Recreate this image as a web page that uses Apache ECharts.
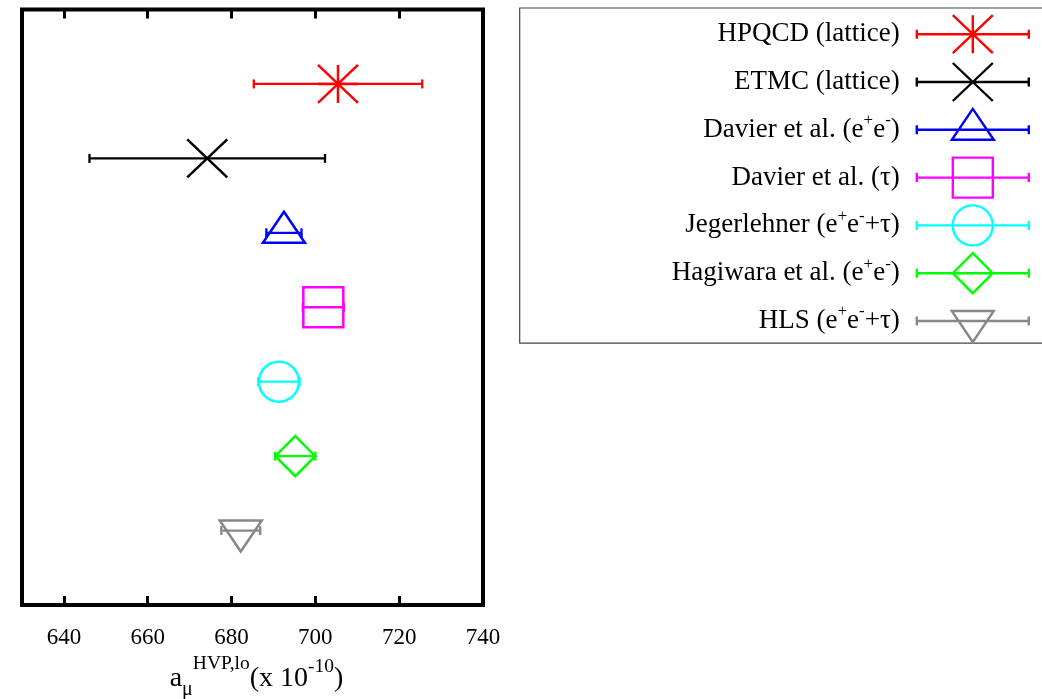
<!DOCTYPE html>
<html>
<head>
<meta charset="utf-8">
<script src="https://cdn.jsdelivr.net/npm/echarts@6/dist/echarts.min.js"></script>
<style>
html, body { margin: 0; padding: 0; background: #fff; }
#chart { width: 1042px; height: 699px; }
</style>
</head>
<body>
<div id="chart"></div>
<script>
// values
const names = ['HPQCD (lattice)', 'ETMC (lattice)', 'Davier et al. (e+e-)', 'Davier et al. (τ)',
               'Jegerlehner (e+e-+τ)', 'Hagiwara et al. (e+e-)', 'HLS (e+e-+τ)'];
const centers = [705.4, 674.2, 692.5, 701.9, 691.3, 695.2, 682.2];
const errors = [20.1, 28.1, 4.2, 4.9, 4.95, 4.8, 4.65];
const rows = [7, 6, 5, 4, 3, 2, 1];
const xTicks = [640, 660, 680, 700, 720];
const xLabels = [640, 660, 680, 700, 720, 740];

// look
const colors = ['#ff0000', '#000000', '#0000ff', '#ff00ff', '#00ffff', '#00ff00', '#888888'];
const markers = ['star', 'cross', 'triUp', 'square', 'circle', 'diamond', 'triDown'];
const FONT = 'Liberation Serif';

// marker outlines in pixels, centred on the point
function markerParts(kind) {
    switch (kind) {
        case 'star': return [{ l: [0, -19, 0, 19] }, { l: [-20, -19, 20, 19] }, { l: [-20, 19, 20, -19] }, { l: [-20, 0, 20, 0] }];
        case 'cross': return [{ l: [-20, -19, 20, 19] }, { l: [-20, 19, 20, -19] }];
        case 'triUp': return [{ p: [[0, -21], [21, 10], [-21, 10]] }];
        case 'square': return [{ p: [[-20, -20], [20, -20], [20, 20], [-20, 20]] }];
        case 'circle': return [{ c: 20 }];
        case 'diamond': return [{ p: [[0, -20], [20, 0], [0, 20], [-20, 0]] }];
        case 'triDown': return [{ p: [[0, 21], [21, -10], [-21, -10]] }];
    }
    return [];
}

function toElements(parts, cx, cy, color) {
    const st = { stroke: color, lineWidth: 2.5, fill: 'none' };
    return parts.map(function (pt) {
        if (pt.l) {
            return { type: 'line', shape: { x1: cx + pt.l[0], y1: cy + pt.l[1], x2: cx + pt.l[2], y2: cy + pt.l[3] }, style: st };
        }
        if (pt.p) {
            return { type: 'polygon', shape: { points: pt.p.map(function (q) { return [cx + q[0], cy + q[1]]; }) }, style: st };
        }
        return { type: 'circle', shape: { cx: cx, cy: cy, r: pt.c }, style: st };
    });
}

function toPath(parts) {
    return parts.map(function (pt) {
        if (pt.l) return 'M' + pt.l[0] + ' ' + pt.l[1] + ' L' + pt.l[2] + ' ' + pt.l[3];
        if (pt.p) return 'M' + pt.p.map(function (q) { return q[0] + ' ' + q[1]; }).join(' L') + ' Z';
        const r = pt.c;
        return 'M' + (-r) + ' 0 A' + r + ' ' + r + ' 0 1 0 ' + r + ' 0 A' + r + ' ' + r + ' 0 1 0 ' + (-r) + ' 0';
    }).join(' ');
}

function legendIcon(kind) {
    // first two moves only fix the icon box (124 x 42), the bar runs from -56 to 56
    return 'path://M-68 -21 M56 21 M-56 0 L56 0 M-56 -4.5 L-56 4.5 M56 -4.5 L56 4.5 ' + toPath(markerParts(kind));
}

function makeRender(idx) {
    return function (params, api) {
        const x = api.value(0), y = api.value(1), e = api.value(2);
        const c = api.coord([x, y]);
        const lo = api.coord([x - e, y]);
        const hi = api.coord([x + e, y]);
        const col = colors[idx];
        const bar = { stroke: col, lineWidth: 2.3 };
        const kids = [
            { type: 'line', shape: { x1: lo[0], y1: lo[1], x2: hi[0], y2: hi[1] }, style: bar },
            { type: 'line', shape: { x1: lo[0], y1: lo[1] - 4.5, x2: lo[0], y2: lo[1] + 4.5 }, style: bar },
            { type: 'line', shape: { x1: hi[0], y1: hi[1] - 4.5, x2: hi[0], y2: hi[1] + 4.5 }, style: bar }
        ].concat(toElements(markerParts(markers[idx]), c[0], c[1], col));
        return { type: 'group', children: kids };
    };
}

const series = names.map(function (n, i) {
    return {
        type: 'custom',
        name: n,
        xAxisIndex: 0,
        yAxisIndex: 0,
        dimensions: ['x', 'y', 'err'],
        encode: { x: 0, y: 1 },
        data: [[centers[i], rows[i], errors[i]]],
        itemStyle: { color: colors[i] },
        renderItem: makeRender(i),
        animation: false
    };
});

const chart = echarts.init(document.getElementById('chart'));
chart.setOption({
    animation: false,
    grid: {
        show: true, left: 22, right: 559, top: 9.5, bottom: 94,
        outerBoundsMode: 'none',
        borderColor: '#000', borderWidth: 4, backgroundColor: 'transparent'
    },
    xAxis: [
        {
            type: 'value', min: 630, max: 740, position: 'bottom',
            axisLine: { show: false },
            splitLine: { show: false },
            axisTick: { show: true, inside: true, length: 9, customValues: xTicks, lineStyle: { color: '#000', width: 3 } },
            axisLabel: { customValues: xLabels, margin: 21, fontSize: 23, fontFamily: FONT, color: '#000' },
            name: '{b|a}{sub|μ}{sup|HVP,lo}{b|(x 10}{sup2|-10}{b|)}',
            nameLocation: 'middle',
            nameGap: 46,
            nameTextStyle: {
                padding: [0, 0, 0, 8],
                rich: {
                    b: { fontSize: 28, lineHeight: 28, fontFamily: FONT, color: '#000' },
                    sub: { fontSize: 20, lineHeight: 20, fontFamily: FONT, color: '#000', padding: [22, 0, 0, 0] },
                    sup: { fontSize: 19.5, lineHeight: 20, fontFamily: FONT, color: '#000', padding: [0, 0, 30, 0] },
                    sup2: { fontSize: 19.5, lineHeight: 20, fontFamily: FONT, color: '#000', padding: [0, 0, 24, 0] }
                }
            }
        },
        {
            type: 'value', min: 630, max: 740, position: 'top',
            axisLine: { show: false },
            splitLine: { show: false },
            axisTick: { show: true, inside: true, length: 9, customValues: xTicks, lineStyle: { color: '#000', width: 3 } },
            axisLabel: { show: false }
        }
    ],
    yAxis: { type: 'value', min: 0, max: 8, show: false },
    legend: {
        orient: 'vertical',
        align: 'right',
        right: -8,
        top: 8,
        padding: [4, 20, 0, 152],
        itemWidth: 124,
        itemHeight: 42,
        itemGap: 3.4,
        selectedMode: false,
        borderColor: '#444',
        borderWidth: 1.2,
        backgroundColor: '#fff',
        data: names.map(function (n, i) {
            return {
                name: n,
                icon: legendIcon(markers[i]),
                itemStyle: { color: 'rgba(0,0,0,0)', borderColor: colors[i], borderWidth: 2.4 }
            };
        }),
        formatter: function (n) {
            return n.replace(/e\+e-/g, 'e{sup|+}e{sup|-}');
        },
        textStyle: {
            fontSize: 27, fontFamily: FONT, color: '#000',
            rich: {
                sup: { fontSize: 17, fontFamily: FONT, color: '#000', padding: [0, 0, 18, 0] }
            }
        }
    },
    series: series
});
</script>
</body>
</html>
